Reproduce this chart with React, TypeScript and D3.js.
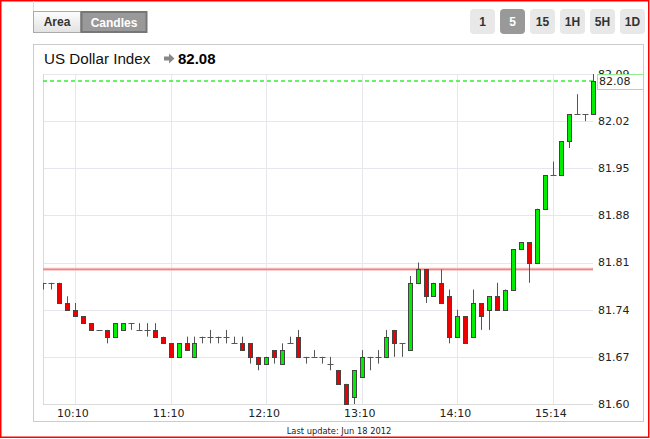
import React from "react";
import * as d3 from "d3";

const opens = [81.78,81.78,81.78,81.75,81.74,81.73,81.72,81.71,81.71,81.70, 81.71,81.72,81.71,81.71,81.71,81.70,81.69,81.67,81.69,81.67, 81.70,81.70,81.70,81.70,81.69,81.69,81.69,81.67,81.66,81.68, 81.66,81.69,81.70,81.67,81.67,81.67,81.66,81.65,81.63,81.61, 81.64,81.67,81.67,81.67,81.71,81.69,81.68,81.78,81.80,81.76, 81.78,81.76,81.70,81.73,81.70,81.75,81.74,81.76,81.74,81.77, 81.83,81.84,81.81,81.89,81.94,81.94,81.99,82.03,82.03,82.03];
const closes = [81.78,81.78,81.75,81.74,81.73,81.72,81.71,81.71,81.70,81.72, 81.72,81.72,81.71,81.71,81.70,81.69,81.67,81.69,81.68,81.69, 81.70,81.70,81.70,81.70,81.69,81.68,81.67,81.66,81.67,81.67, 81.68,81.69,81.67,81.67,81.67,81.67,81.66,81.63,81.60,81.65, 81.67,81.67,81.67,81.70,81.69,81.69,81.78,81.80,81.76,81.78, 81.75,81.70,81.73,81.69,81.75,81.73,81.76,81.74,81.77,81.83, 81.84,81.81,81.89,81.94,81.94,81.99,82.03,82.03,82.03,82.08];
const highs = [81.78,81.78,81.78,81.76,81.75,81.73,81.72,81.71,81.71,81.72, 81.72,81.72,81.72,81.72,81.72,81.70,81.69,81.69,81.70,81.70, 81.70,81.71,81.70,81.71,81.70,81.70,81.69,81.67,81.67,81.68, 81.69,81.70,81.71,81.67,81.68,81.67,81.67,81.65,81.63,81.65, 81.68,81.67,81.68,81.71,81.71,81.69,81.79,81.81,81.80,81.78, 81.80,81.77,81.74,81.73,81.77,81.75,81.76,81.78,81.77,81.83, 81.84,81.84,81.89,81.94,81.96,81.99,82.03,82.06,82.03,82.09];
const lows = [81.77,81.77,81.75,81.74,81.73,81.72,81.71,81.71,81.69,81.70, 81.71,81.71,81.71,81.70,81.70,81.69,81.67,81.67,81.68,81.67, 81.69,81.69,81.69,81.69,81.69,81.68,81.66,81.65,81.66,81.66, 81.66,81.69,81.67,81.66,81.67,81.66,81.65,81.63,81.60,81.60, 81.64,81.65,81.66,81.67,81.67,81.67,81.68,81.78,81.75,81.76, 81.75,81.69,81.70,81.69,81.70,81.71,81.71,81.74,81.74,81.77, 81.83,81.78,81.81,81.89,81.94,81.94,81.98,82.03,82.02,82.03];

const yTicks = [81.60, 81.67, 81.74, 81.81, 81.88, 81.95, 82.02, 82.09];
const xTickIndex = [4, 16, 28, 40, 52, 64];
const xTickLabels = ["10:10", "11:10", "12:10", "13:10", "14:10", "15:14"];
const lastValue = 82.08;
const refValue = 81.80;
const title = "US Dollar Index";
const modeButtons = ["Area", "Candles"];
const periodButtons = ["1", "5", "15", "1H", "5H", "1D"];
const selectedPeriod = "5";
const footer = "Last update: Jun 18 2012";

const L = 43, R = 593, T = 74, B = 404;

export default function App() {
  const x = d3.scaleLinear().domain([0, opens.length - 1]).range([43.1, 592.8]);
  const y = d3.scaleLinear().domain([81.60, 82.09]).range([B, T]);
  const axisFont = "'DejaVu Sans', Verdana, sans-serif";
  const arial = "'Liberation Sans', Arial, sans-serif";
  const yLast = Math.round(y(lastValue));
  return (
    <svg width={650} height={439} style={{ position: "absolute", left: 0, top: 0, background: "#fff" }}>
      <defs>
        <linearGradient id="areaGrad" x1="0" y1="0" x2="0" y2="1">
          <stop offset="0" stopColor="#fdfdfd" />
          <stop offset="1" stopColor="#e2e2e2" />
        </linearGradient>
        <clipPath id="plotClip"><rect x={L} y={T - 6} width={R - L + 6} height={B - T + 7} /></clipPath>
      </defs>
      <rect x={0.75} y={0.75} width={648} height={436.5} fill="#fff" stroke="#ff0000" strokeWidth={1.5} />
      <line x1={33.5} y1={1} x2={33.5} y2={11} stroke="#dcdcdc" />
      {/* mode buttons */}
      <rect x={33.5} y={11.5} width={47} height={21} fill="url(#areaGrad)" stroke="#aaa" />
      <text x={57} y={26} textAnchor="middle" fontFamily={arial} fontWeight="bold" fontSize={12} fill="#333">{modeButtons[0]}</text>
      <rect x={81.5} y={12} width={65} height={20} fill="#999" stroke="#777" strokeWidth={2} />
      <text x={114} y={27} textAnchor="middle" fontFamily={arial} fontWeight="bold" fontSize={12} fill="#fff">{modeButtons[1]}</text>
      {/* period buttons */}
      {periodButtons.map((p, i) => (
        <g key={p}>
          <rect x={470 + i * 30} y={9} width={25} height={25} rx={4} fill={p === selectedPeriod ? "#999" : "#e8e8e8"} />
          <text x={482.5 + i * 30} y={26} textAnchor="middle" fontFamily={arial} fontWeight="bold" fontSize={12} fill={p === selectedPeriod ? "#fff" : "#333"}>{p}</text>
        </g>
      ))}
      {/* panel */}
      <rect x={33.5} y={44.5} width={610} height={377} fill="#fff" stroke="#ccc" />
      <text x={44} y={64} fontFamily={arial} fontSize={15.2} fill="#111">{title}</text>
      <path d="M164,56.5 L169,56.5 L169,53.5 L174.5,58.5 L169,63.5 L169,60.5 L164,60.5 Z" fill="#888" />
      <text x={178} y={64} fontFamily={arial} fontWeight="bold" fontSize={15} fill="#000">{lastValue.toFixed(2)}</text>
      {/* grid */}
      {yTicks.map((t) => (
        <line key={"h" + t} x1={L} x2={R} y1={Math.round(y(t)) + 0.5} y2={Math.round(y(t)) + 0.5} stroke="#e6e6ec" />
      ))}
      {xTickIndex.map((t) => (
        <line key={"v" + t} x1={Math.round(x(t)) + 0.5} x2={Math.round(x(t)) + 0.5} y1={T} y2={B} stroke="#e6e6ec" />
      ))}
      <line x1={L + 0.5} x2={L + 0.5} y1={T} y2={B + 1} stroke="#dadada" />
      <line x1={L} x2={R} y1={B + 0.5} y2={B + 0.5} stroke="#dadada" />
      {/* reference line */}
      <line x1={L} x2={R} y1={y(refValue)} y2={y(refValue)} stroke="#f7c0c0" strokeWidth={3} />
      <line x1={L} x2={R} y1={y(refValue)} y2={y(refValue)} stroke="#ee7777" strokeWidth={1} />
      {/* last value dashed */}
      <line x1={L} x2={R} y1={yLast} y2={yLast} stroke="#33ee33" strokeWidth={1.4} strokeDasharray="4,3" />
      {/* candles */}
      <g clipPath="url(#plotClip)">
        {opens.map((o, i) => {
          const c = closes[i];
          const cx = Math.round(x(i)) + 0.5;
          const yo = y(o), yc = y(c);
          const top = Math.round(Math.min(yo, yc)) + 0.5;
          const bot = Math.round(Math.max(yo, yc)) + 0.5;
          return (
            <g key={i}>
              <line x1={cx} x2={cx} y1={y(highs[i])} y2={y(lows[i])} stroke="#555" strokeWidth={1} />
              {o === c ? (
                <line x1={cx - 3} x2={cx + 3} y1={top} y2={top} stroke="#555" strokeWidth={1} />
              ) : (
                <rect x={cx - 2} y={top} width={4} height={bot - top} fill={c > o ? "#00ee00" : "#ee0000"} stroke="#444" strokeWidth={1} />
              )}
            </g>
          );
        })}
      </g>
      {/* y labels */}
      {yTicks.map((t) => (
        <text key={"yl" + t} x={598} y={y(t)} dy="0.35em" fontFamily={axisFont} fontSize={11} fill="#222">{t.toFixed(2)}</text>
      ))}
      <rect x={597.5} y={74.5} width={46} height={15} fill="#fff" stroke="#90ee90" />
      <text x={599} y={y(lastValue)} dy="0.35em" fontFamily={axisFont} fontSize={11} fill="#222">{lastValue.toFixed(2)}</text>
      {/* x labels */}
      {xTickIndex.map((t, i) => (
        <text key={"xl" + t} x={x(t) - 2} y={417} textAnchor="middle" fontFamily={axisFont} fontSize={11} fill="#222">{xTickLabels[i]}</text>
      ))}
      <text x={339} y={434} textAnchor="middle" fontFamily={axisFont} fontSize={8.3} fill="#222">{footer}</text>
    </svg>
  );
}
